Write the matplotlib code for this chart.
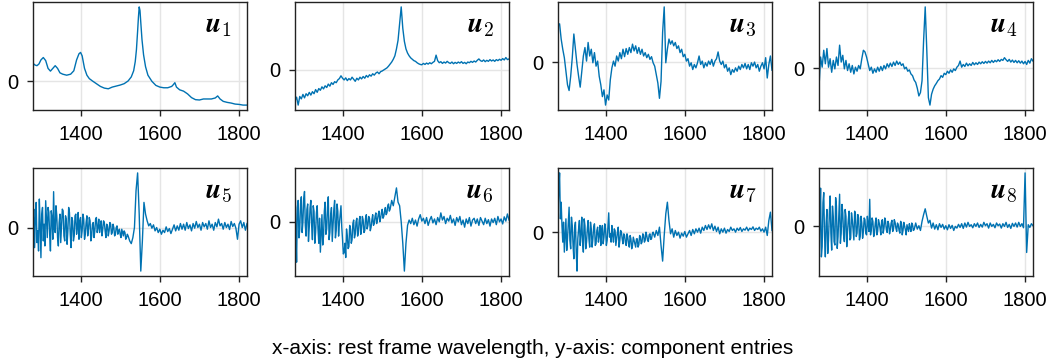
import numpy
import matplotlib
matplotlib.use("Agg")
import matplotlib.pyplot as plt

plt.rcParams["font.family"] = ["Liberation Sans", "DejaVu Sans"]
plt.rcParams["mathtext.fontset"] = "cm"

# Rest frame wavelength grids (Angstrom).
# u2..u4: step 4 from 1280 to 1820.
# u5..u8: step 2 up to 1520 (noisy blue end), then step 4.
wave_start = 1280
wave_end = 1820
wave_split = 1520

# Component 1 is smooth, sampled on its own wavelengths.
wave_u1 = [1280, 1285, 1290, 1295, 1300, 1306, 1312, 1318, 1324, 1330,
           1336, 1342, 1348, 1355, 1365, 1375, 1383, 1390, 1396, 1400,
           1404, 1410, 1416, 1422, 1430, 1440, 1450, 1460, 1470, 1480,
           1490, 1500, 1510, 1520, 1528, 1534, 1538, 1541, 1544, 1546,
           1548, 1550, 1552, 1555, 1559, 1564, 1570, 1580, 1590, 1600,
           1610, 1620, 1630, 1634, 1638, 1642, 1650, 1660, 1670, 1680,
           1690, 1700, 1710, 1720, 1730, 1740, 1746, 1752, 1760, 1770,
           1780, 1790, 1800, 1810, 1820]

# Component entries, in units of 1e-3.
u1 = [53, 48, 46, 51, 63, 70, 61, 38, 30, 38,
      46, 38, 25, 21, 18, 21, 31, 63, 81, 85,
      75, 38, 18, 8, 1, -7, -15, -20, -22, -17,
      -14, -11, -7, 1, 13, 31, 58, 93, 148, 188,
      219, 208, 173, 123, 78, 43, 18, 0, -12, -17,
      -19, -19, -15, -10, -4, -17, -25, -29, -37, -48,
      -54, -55, -52, -52, -52, -49, -43, -52, -59, -62,
      -64, -67, -68, -70, -70]
u2 = [-90, -80, -103, -78, -85, -72, -82, -70, -76, -66,
      -74, -64, -70, -58, -66, -55, -60, -50, -56, -47,
      -52, -42, -48, -38, -43, -35, -38, -30, -26, -18,
      -25, -30, -24, -32, -26, -30, -22, -28, -34, -25,
      -30, -22, -27, -20, -25, -17, -22, -15, -19, -12,
      -16, -10, -7, -12, -6, -4, -1, 2, 5, 10,
      16, 22, 30, 40, 60, 85, 135, 182, 120, 82,
      60, 48, 40, 34, 30, 26, 24, 20, 17, 15,
      14, 18, 15, 19, 16, 20, 17, 21, 24, 42,
      26, 20, 23, 18, 22, 19, 24, 20, 18, 22,
      17, 21, 18, 22, 19, 23, 18, 21, 17, 22,
      20, 24, 21, 25, 22, 27, 31, 26, 24, 28,
      23, 27, 24, 29, 25, 28, 24, 29, 26, 30,
      27, 32, 28, 35, 29, 31]
u3 = [109, 114, 69, 39, 14, -26, -66, -83, -41, 14,
      84, 39, -6, -41, -73, -26, 19, 44, 4, 59,
      19, 39, -1, 29, -11, 4, -41, -66, -101, -81,
      -126, -96, -111, -51, -16, 4, -11, 19, 4, 29,
      11, 39, 17, 41, 24, 44, 29, 54, 34, 49,
      27, 44, 24, 39, 19, 29, 14, 24, 9, 17,
      -1, -11, -36, -61, -106, -56, 89, 164, -1, 39,
      69, 54, 64, 49, 59, 41, 49, 29, 39, 17,
      24, 4, 11, -11, -1, -21, -6, -16, -1, 19,
      -6, 4, -16, -1, -11, 4, -6, 9, -11, 4,
      11, 31, 4, -6, 4, -16, -6, -26, -16, -36,
      -21, -29, -16, -26, -11, -21, -6, -16, -3, -19,
      -6, -21, -1, -11, 1, -16, -6, -26, -11, -1,
      -19, 14, -46, -6, 19, -23]
u4 = [-57, 33, 3, 53, 13, 58, 3, 28, -12, 23,
      -2, 33, 8, 68, 18, 38, -2, 23, -7, 13,
      -12, 8, -17, 3, -9, 8, -2, 28, 53, 48,
      33, 13, -7, 3, -15, -2, -12, 3, -9, 5,
      -7, 8, -2, 13, 3, 15, 5, 18, 8, 21,
      11, 18, 8, 13, -2, 3, -9, -5, -17, -22,
      -35, -42, -59, -82, -72, -37, 83, 181, 53, -87,
      -109, -77, -62, -52, -45, -37, -32, -22, -27, -15,
      -19, -9, -15, -5, -12, -2, -7, 3, 8, 21,
      3, 11, 5, 15, 7, 13, 8, 17, 10, 16,
      11, 18, 13, 19, 14, 20, 15, 21, 16, 23,
      17, 23, 19, 25, 20, 26, 23, 31, 25, 20,
      26, 18, 24, 17, 23, 16, 22, 15, 21, 13,
      20, 11, 23, 15, 28, 21]
u5 = [20, 55, -60, 30, 75, -45, -10, -70, 85, 10,
      -90, 40, 60, -40, 10, -55, 80, 25, -30, 60,
      45, -20, -70, 50, 30, -35, 107, -5, -15, 65,
      35, -30, -55, 15, 40, -45, 5, 55, 50, -25,
      -40, 35, 25, -50, -10, 60, 45, -20, -60, 30,
      20, -40, -25, 35, 40, -20, 0, 45, -35, 20,
      30, -30, -10, 40, 25, -35, -20, 15, 35, -25,
      -5, 30, 20, -40, -25, 10, 15, -30, -10, 25,
      30, -15, 0, 25, -15, 5, 20, -25, -5, 20,
      15, -10, -30, 10, 5, -25, -10, 15, 10, -20,
      -15, 10, 0, -25, -20, 0, 5, -20, -10, -5,
      -20, -30, -5, -15, -25, -10, -15, -35, -30, -20,
      -25,
      -40, -48, -30, 0, 110, 163, 40, -130, -40,
      75, 40, 20, 5, 12, -2, 8, -10, 0, -15,
      -5, -20, -8, -15, 2, -12, -3, -18, -5, 8,
      -10, 5, -8, 12, -5, 10, -8, 15, -3, 8,
      -10, 12, -2, 18, 0, 10, -8, 15, 2, 12,
      -5, 20, 0, 10, -8, 15, 2, 25, 5, 12,
      -5, 15, 0, 10, -6, 18, 3, 12, -2, -35,
      10, 20, 0, 15, -8, 12]
u6 = [137, -20, -113, 40, 60, -45, -20, 50, 70, -30,
      0, 65, 85, -10, -40, 35, 50, -55, -15, 40,
      60, -10, -50, 45, 30, -60, -30, 25, 45, -20,
      -60, 10, -85, -30, 20, -65, -40, 30, 55, -35,
      -20, 40, 70, -50, -30, 20, 40, -55, -10, 35,
      60, -45, -25, 50, 30, -40, -5, 20, 45, -15,
      -50, -90, -85, -60, -100, -20, -40, -75, -70, -10,
      -20, -60, -50, -5, 5, -45, -35, 0, 10, -40,
      -30, 5, 15, -35, -20, 15, 5, -30, -25, 10,
      20, -20, -10, 15, 10, -25, -15, 5, 20, -10,
      -5, 15, 25, -5, 5, 20, 30, 0, 10, 25,
      35, 10, 15, 30, 40, 20, 25, 45, 50, 30,
      35,
      60, 45, 70, 95, 55, 45, 0, -60, -138,
      -60, -10, 5, -5, 10, -8, 5, -12, 8, 20,
      2, 10, -5, 12, -10, 5, 15, -3, 8, -8,
      12, 0, 25, 5, 15, -5, 10, 2, 18, -3,
      8, -10, 12, 0, 15, -8, 5, -15, 8, -5,
      12, -12, 5, 10, -5, 8, -10, 12, 2, -8,
      10, -5, 6, -12, 8, -2, 10, -8, 15, 0,
      8, -6, 14, 2, 22, 5]
u7 = [60, 130, 178, 40, 90, 20, -30, 30, -60, -10,
      40, -55, -20, 30, 75, -25, -50, 45, 20, -40,
      -80, 15, 30, -60, -117, -20, 10, 35, -40, -5,
      45, -30, -60, 40, 20, -50, -30, 10, 35, -20,
      -45, 30, 10, -45, -20, 15, 25, -40, -35, 5,
      15, -30, -10, 20, -40, 5, 20, -35, -15, 25,
      10, -40, -25, 15, 58, -15, -5, -30, 20, -10,
      -30, 10, 5, -40, -20, 0, 15, -45, -25, 5,
      0, -20, -35, -5, -10, -30, -40, -5, -15, -35,
      -45, -10, -20, -50, -40, -15, -25, -35, -45, -20,
      -20, -45, -38, -10, -15, -35, -30, -5, -8, -30,
      -25, 0, -10, -25, -28, -8, -5, -22, -20, -5,
      0,
      -15, 5, -10, 15, -40, -87, -10, 55, 90,
      35, -5, 10, -15, 5, -10, 0, -18, -3, -12,
      2, -15, -5, 5, -10, 8, -5, 10, 0, 12,
      -3, 15, 5, 20, 8, 22, 10, 25, 5, 18,
      2, 15, -5, 10, 0, 12, -3, 8, 2, 15,
      5, 10, 0, 12, 5, 14, 2, 10, 6, 15,
      4, 12, 8, 16, 5, 12, 8, 15, 3, 10,
      0, 15, -10, 35, 60, 5]
u8 = [-132, 20, 113, -90, -60, 70, 100, -30, -90, 10,
      50, -80, -40, 35, 90, -20, -70, 60, 30, -45,
      -55, 85, 60, -65, -30, 30, 95, -50, -20, 65,
      40, -25, -45, 50, 30, -60, -15, 20, 45, -40,
      -35, 40, 20, -10, -40, 45, 35, -30, -20, 35,
      25, -40, -30, 30, 10, -35, -15, 25, 20, -20,
      -25, 30, 5, -15, 80, -25, -10, 25, 15, -30,
      -20, 10, 25, -25, -15, 20, 10, -5, -25, 15,
      20, -20, -5, 25, 15, -10, -18, 15, 8, -22,
      -10, 10, 18, -15, -8, 20, 12, -5, -15, 10,
      5, -12, -20, 15, 10, -25, -12, 12, 0, -10,
      -25, 5, -5, -15, 8, -5, -15, 10, 5, -12,
      -10,
      10, -8, 2, -12, 15, 35, 52, 30, 10,
      18, -5, 10, -8, 5, -10, 8, -3, 6, -8,
      2, -10, 5, -6, 3, -12, 0, -5, 6, -3,
      8, -6, 10, -2, 12, 0, 5, -4, 8, 0,
      10, -3, 6, -2, 12, 2, 8, -5, 10, 0,
      6, -4, 10, 2, 7, -5, 8, 0, 12, -3,
      6, -6, 9, 0, 10, -2, 12, 0, 8, -4,
      158, -77, 5, -3, 8, 2]

labels = [r"$\boldsymbol{u}_%d$" % k for k in range(1, 9)]
xticks = [1400, 1600, 1800]
xlim = (1280, 1820)
caption = "x-axis: rest frame wavelength, y-axis: component entries"

line_color = "#0072B2"
spine_color = "#222222"


def panel_rect(row, col):
    """Axes rectangle in figure fractions, from the reference layout."""
    lefts = [33, 295, 558, 819]
    tops = [2, 168]
    w, h = 214, 108
    return [lefts[col] / 1054, 1 - (tops[row] + h) / 360, w / 1054, h / 360]


def style_axes(ax):
    ax.set_xlim(*xlim)
    ax.set_xticks(xticks)
    ax.set_yticks([0])
    ax.grid(True, color="#e5e5e5", linewidth=1.0)
    ax.set_axisbelow(True)
    for spine in ax.spines.values():
        spine.set_color(spine_color)
        spine.set_linewidth(1.0)
    ax.tick_params(direction="out", length=4.5, width=1.0,
                   color=spine_color, labelsize=14.5, pad=6)


def main():
    wave = numpy.arange(wave_start, wave_end + 1, 4)
    wave_fine = numpy.concatenate([numpy.arange(wave_start, wave_split + 1, 2),
                                   numpy.arange(wave_split + 4, wave_end + 1, 4)])
    series = [(wave_u1, u1), (wave, u2), (wave, u3), (wave, u4),
              (wave_fine, u5), (wave_fine, u6), (wave_fine, u7),
              (wave_fine, u8)]

    fig = plt.figure(figsize=(10.54, 3.6), dpi=100)
    for k, (x, y) in enumerate(series):
        ax = fig.add_axes(panel_rect(k // 4, k % 4))
        ax.plot(x, numpy.asarray(y) * 1e-3, color=line_color, linewidth=1.0)
        style_axes(ax)
        ax.text(0.93, 0.72, labels[k], transform=ax.transAxes,
                ha="right", va="baseline", fontsize=20)

    fig.text(533 / 1054, 1 - 348 / 360, caption, ha="center", va="center",
             fontsize=15)
    fig.savefig("out.png", dpi=100)


if "__main__" == __name__:
    main()
